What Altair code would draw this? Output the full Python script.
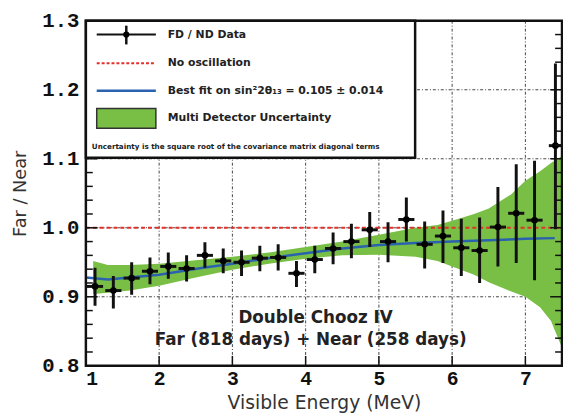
import altair as alt
import pandas as pd

# ---------------- data ----------------
energy = [1.125, 1.375, 1.625, 1.875, 2.125, 2.375, 2.625, 2.875, 3.125, 3.375,
          3.625, 3.875, 4.125, 4.375, 4.625, 4.875, 5.125, 5.375, 5.625, 5.875,
          6.125, 6.375, 6.625, 6.875, 7.125, 7.41]
ratio = [0.915, 0.909, 0.927, 0.937, 0.944, 0.941, 0.960, 0.952, 0.950, 0.956,
         0.957, 0.934, 0.954, 0.970, 0.980, 0.997, 0.980, 1.012, 0.976, 0.988,
         0.971, 0.967, 1.001, 1.021, 1.011, 1.119]
ratio_hi = [0.942, 0.930, 0.950, 0.957, 0.964, 0.960, 0.979, 0.970, 0.967, 0.974,
            0.976, 0.952, 0.974, 0.993, 1.006, 1.023, 1.008, 1.044, 1.009, 1.025,
            1.013, 1.015, 1.059, 1.092, 1.097, 1.238]
ratio_lo = [0.887, 0.883, 0.903, 0.918, 0.926, 0.922, 0.942, 0.934, 0.930, 0.937,
            0.938, 0.914, 0.934, 0.947, 0.956, 0.972, 0.950, 0.980, 0.941, 0.949,
            0.930, 0.920, 0.944, 0.949, 0.924, 0.998]
bin_half = [0.11] * 25 + [0.09]

fit_energy = [1.0, 1.3, 2.0, 2.6, 3.0, 3.5, 4.0, 4.5, 5.0, 5.5, 6.0, 6.5, 7.0, 7.4]
fit_ratio = [0.928, 0.925, 0.932, 0.942, 0.948, 0.956, 0.963, 0.970, 0.975, 0.978,
             0.980, 0.982, 0.984, 0.985]

band_energy = [1.1, 1.3, 1.6, 2.0, 2.5, 3.0, 3.5, 4.0, 4.5, 5.0, 5.5, 5.8, 6.0,
               6.3, 6.5, 6.8, 7.0, 7.2, 7.35, 7.5]
band_upper = [0.952, 0.946, 0.946, 0.948, 0.953, 0.958, 0.964, 0.972, 0.980, 0.990,
              1.000, 1.004, 1.010, 1.020, 1.028, 1.048, 1.068, 1.082, 1.094, 1.104]
band_lower = [0.904, 0.906, 0.909, 0.916, 0.928, 0.939, 0.948, 0.955, 0.960, 0.961,
              0.958, 0.952, 0.944, 0.932, 0.921, 0.908, 0.900, 0.885, 0.865, 0.826]

no_osc_x = [1.0, 7.5]
no_osc_y = [1.0, 1.0]

x_grid = [2, 3, 4, 5, 6, 7]
y_grid = [0.9, 1.0, 1.1, 1.2]
x_ticks = [2, 3, 4, 5, 6, 7]
y_major_ticks = [0.9, 1.0, 1.1, 1.2]
y_minor_ticks = [0.82, 0.84, 0.86, 0.88, 0.92, 0.94, 0.96, 0.98, 1.02, 1.04,
                 1.06, 1.08, 1.12, 1.14, 1.16, 1.18, 1.22, 1.24, 1.26, 1.28]

W, H = 483, 350
XD = [1, 7.5]
YD = [0.8, 1.3]

df = pd.DataFrame({"e": energy, "r": ratio, "hi": ratio_hi, "lo": ratio_lo, "hw": bin_half})
df["elo"] = df["e"] - df["hw"]
df["ehi"] = df["e"] + df["hw"]
fit = pd.DataFrame({"e": fit_energy, "r": fit_ratio})
band = pd.DataFrame({"e": band_energy, "u": band_upper, "l": band_lower})
nosc = pd.DataFrame({"e": no_osc_x, "r": no_osc_y})
one = pd.DataFrame({"a": [0]})

xs = alt.Scale(domain=XD, nice=False, zero=False)
ys = alt.Scale(domain=YD, nice=False, zero=False)

xaxis = alt.Axis(values=[1, 2, 3, 4, 5, 6, 7], format="d", labelFont="Liberation Mono",
                 labelFontWeight="bold", labelFontSize=20, labelColor="#111",
                 labelPadding=3, ticks=False, domain=False, grid=False,
                 title="Visible Energy (MeV)", titleFont="DejaVu Sans",
                 titleFontSize=19, titleFontWeight="normal", titleColor="#333",
                 titlePadding=5)
yaxis = alt.Axis(values=[0.8, 0.9, 1.0, 1.1, 1.2, 1.3], format=".1f",
                 labelFont="Liberation Mono", labelFontWeight="bold", labelFontSize=21,
                 labelColor="#111", labelPadding=7, ticks=False, domain=False, grid=False,
                 title="Far / Near", titleFont="DejaVu Sans", titleFontSize=18,
                 titleFontWeight="normal", titleColor="#333", titlePadding=12)

X = lambda f: alt.X(f, type="quantitative", scale=xs, axis=xaxis)
Y = lambda f: alt.Y(f, type="quantitative", scale=ys, axis=yaxis)

grid_v = alt.Chart(pd.DataFrame({"g": x_grid})).mark_rule(
    color="#444", strokeWidth=1, strokeDash=[3, 2, 1, 2]).encode(x=X("g"))
grid_h = alt.Chart(pd.DataFrame({"g": y_grid})).mark_rule(
    color="#444", strokeWidth=1, strokeDash=[3, 2, 1, 2]).encode(y=Y("g"))

band_l = alt.Chart(band).mark_area(color="#79bf45", opacity=1, clip=True).encode(
    x=X("e"), y=Y("l"), y2="u")

fit_l = alt.Chart(fit).mark_line(color="#2a62ad", strokeWidth=2.5).encode(x=X("e"), y=Y("r"))
nosc_l = alt.Chart(nosc).mark_line(color="#e4302a", strokeWidth=2, strokeDash=[4, 3]).encode(
    x=X("e"), y=Y("r"))

ebar_v = alt.Chart(df).mark_rule(color="#111", strokeWidth=3, clip=True).encode(
    x=X("e"), y=Y("lo"), y2="hi")
ebar_h = alt.Chart(df).mark_rule(color="#111", strokeWidth=3).encode(
    x=X("elo"), x2="ehi", y=Y("r"))
pts = alt.Chart(df).mark_circle(color="#000", size=45, opacity=1).encode(x=X("e"), y=Y("r"))

# ticks (inside)
tick_l_min = alt.Chart(pd.DataFrame({"t": y_minor_ticks})).mark_rule(color="#111", strokeWidth=1.5).encode(
    y=Y("t"), x=alt.value(0), x2=alt.value(7))
tick_l_maj = alt.Chart(pd.DataFrame({"t": y_major_ticks})).mark_rule(color="#111", strokeWidth=1.5).encode(
    y=Y("t"), x=alt.value(0), x2=alt.value(12))
tick_r_min = alt.Chart(pd.DataFrame({"t": y_minor_ticks})).mark_rule(color="#111", strokeWidth=1.5).encode(
    y=Y("t"), x=alt.value(W), x2=alt.value(W - 7))
tick_r_maj = alt.Chart(pd.DataFrame({"t": y_major_ticks})).mark_rule(color="#111", strokeWidth=1.5).encode(
    y=Y("t"), x=alt.value(W), x2=alt.value(W - 12))
tick_b = alt.Chart(pd.DataFrame({"t": x_ticks})).mark_rule(color="#111", strokeWidth=1.5).encode(
    x=X("t"), y=alt.value(H), y2=alt.value(H - 10))

frame = alt.Chart(one).mark_rect(fill=None, stroke="#111", strokeWidth=2.5).encode(
    x=alt.value(0), x2=alt.value(W), y=alt.value(0), y2=alt.value(H))

# legend box
leg_box = alt.Chart(one).mark_rect(fill="white", stroke="#111", strokeWidth=2.5).encode(
    x=alt.value(0), x2=alt.value(334), y=alt.value(0), y2=alt.value(139))
leg_data_h = alt.Chart(one).mark_rule(color="#111", strokeWidth=2).encode(
    x=alt.value(11), x2=alt.value(71), y=alt.value(14))
leg_data_v = alt.Chart(one).mark_rule(color="#111", strokeWidth=2.5).encode(
    x=alt.value(41), y=alt.value(5), y2=alt.value(24))
leg_data_p = alt.Chart(one).mark_circle(color="#000", size=40, opacity=1).encode(
    x=alt.value(41), y=alt.value(14))
leg_red = alt.Chart(one).mark_rule(color="#e4302a", strokeWidth=2, strokeDash=[3, 2]).encode(
    x=alt.value(11), x2=alt.value(71), y=alt.value(43))
leg_blue = alt.Chart(one).mark_rule(color="#2a62ad", strokeWidth=2.5).encode(
    x=alt.value(11), x2=alt.value(71), y=alt.value(71))
leg_green = alt.Chart(one).mark_rect(fill="#79bf45", stroke="#333", strokeWidth=1.5).encode(
    x=alt.value(11), x2=alt.value(71), y=alt.value(89), y2=alt.value(109))

leg_labels = ["FD / ND Data", "No oscillation", "Best fit on sin\u00b22\u03b8\u2081\u2083 = 0.105 \u00b1 0.014",
              "Multi Detector Uncertainty"]
leg_y = [14, 43, 71, 99]
leg_texts = [
    alt.Chart(one).mark_text(text=t, align="left", baseline="middle", font="DejaVu Sans",
                             fontWeight="bold", fontSize=11, color="#222").encode(
        x=alt.value(83), y=alt.value(yy))
    for t, yy in zip(leg_labels, leg_y)
]
leg_note = alt.Chart(one).mark_text(
    text="Uncertainty is the square root of the covariance matrix diagonal terms",
    align="left", baseline="middle", font="DejaVu Sans", fontWeight="bold", fontSize=7.3,
    color="#222").encode(x=alt.value(6), y=alt.value(128))

ann1 = alt.Chart(one).mark_text(text="Double Chooz IV", align="center", baseline="middle",
                                font="DejaVu Sans", fontWeight="bold", fontSize=17,
                                color="#222").encode(x=alt.value(233), y=alt.value(302))
ann2 = alt.Chart(one).mark_text(text="Far (818 days) + Near (258 days)", align="center",
                                baseline="middle", font="DejaVu Sans", fontWeight="bold",
                                fontSize=17, color="#222").encode(x=alt.value(228), y=alt.value(324))

chart = alt.layer(
    grid_v, grid_h, band_l, fit_l, nosc_l, ebar_v, ebar_h, pts,
    tick_l_min, tick_l_maj, tick_r_min, tick_r_maj, tick_b, frame,
    leg_box, leg_data_h, leg_data_v, leg_data_p, leg_red, leg_blue, leg_green,
    *leg_texts, leg_note, ann1, ann2
).properties(
    width=W, height=H,
    autosize=alt.AutoSizeParams(type="none"),
    padding={"left": 79, "top": 10, "right": 1, "bottom": 48},
).configure_view(stroke=None).configure(font="DejaVu Sans", background="white")

chart.save("out.html", embed_options={"renderer": "svg", "actions": False})
